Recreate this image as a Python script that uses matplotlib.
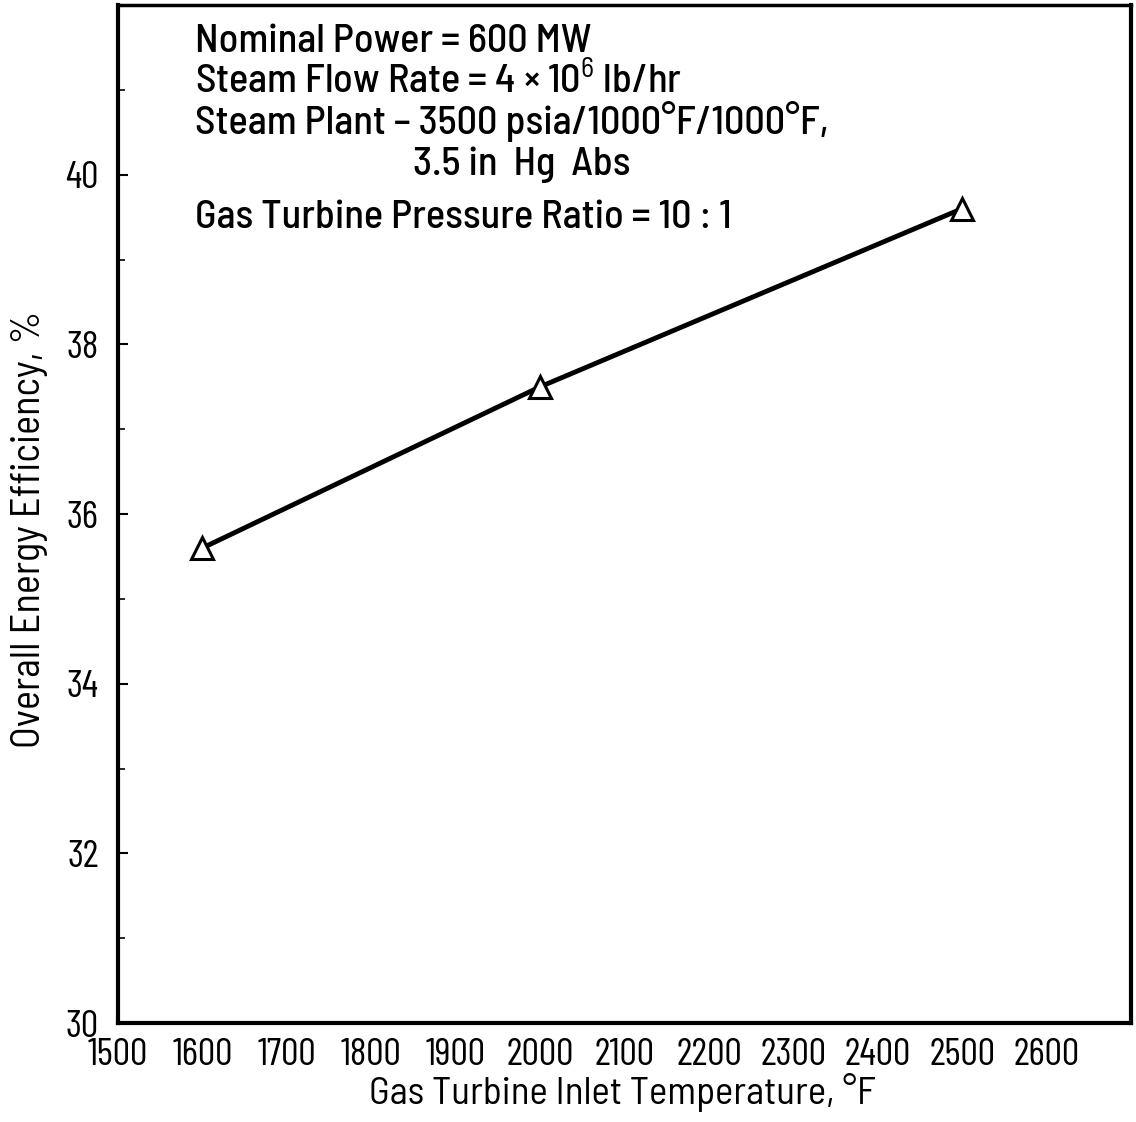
import matplotlib
matplotlib.use("Agg")
import matplotlib.pyplot as plt
from matplotlib import font_manager
from matplotlib.ticker import MultipleLocator

# ---- data ----
inlet_temp_F = [1600, 2000, 2500]
efficiency_pct = [35.6, 37.5, 39.6]
x_ticks = [1500, 1600, 1700, 1800, 1900, 2000, 2100, 2200, 2300, 2400, 2500, 2600]
y_ticks = [30, 32, 34, 36, 38, 40]
notes = [
    "Nominal Power = 600 MW",
    r"Steam Flow Rate = 4 × 10$^{6}$ lb/hr",
    "Steam Plant – 3500 psia/1000°F/1000°F,",
    "3.5 in  Hg  Abs",
    "Gas Turbine Pressure Ratio = 10 : 1",
]
x_label = "Gas Turbine Inlet Temperature, °F"
y_label = "Overall Energy Efficiency, %"

# ---- font selection ----
names = {f.name for f in font_manager.fontManager.ttflist}
if 'Barlow Condensed' in names:
    FAM = ['Barlow Condensed', 'DejaVu Sans']
    STR = 'normal'
else:
    FAM = ['DejaVu Sans']
    STR = 'condensed'
if 'Barlow Semi Condensed' in names:
    FAM2 = ['Barlow Semi Condensed', 'DejaVu Sans']
else:
    FAM2 = FAM

plt.rcParams['font.family'] = FAM
plt.rcParams['font.stretch'] = STR
plt.rcParams['mathtext.fontset'] = 'custom'
plt.rcParams['mathtext.rm'] = FAM2[0]
plt.rcParams['mathtext.it'] = FAM2[0]

fig = plt.figure(figsize=(11.36, 11.22), dpi=100)
ax = fig.add_axes([0.1039, 0.0882, 0.8917, 0.9073])

ax.plot(inlet_temp_F, efficiency_pct, color='black', lw=3.5, marker='^',
        markersize=16, markerfacecolor='white', markeredgecolor='black',
        markeredgewidth=2.2, zorder=3)

ax.set_xlim(1500, 2700)
ax.set_ylim(30, 42)
ax.set_xticks(x_ticks)
ax.set_xticklabels([str(t) for t in x_ticks])
ax.set_yticks(y_ticks)
ax.yaxis.set_minor_locator(MultipleLocator(1))
ax.tick_params(axis='x', length=0, labelsize=28, pad=11)
ax.tick_params(axis='y', which='major', direction='in', length=7, width=1.5, labelsize=28, pad=14)
ax.tick_params(axis='y', which='minor', direction='in', length=5, width=1.2)

for s in ['left', 'bottom', 'right']:
    ax.spines[s].set_linewidth(3)
ax.spines['top'].set_linewidth(2.5)

fig.text(0.548, 0.0265, x_label, ha='center', va='center', fontsize=28, family=FAM2)
fig.text(0.026, 0.528, y_label, ha='center', va='center', rotation=90, fontsize=29, family=FAM2)

note_y = [42, 80, 122, 165, 218]
note_x = [195, 195, 195, 413, 195]
for t, xp, yp in zip(notes, note_x, note_y):
    fig.text(xp / 1136, 1 - yp / 1122, t, ha='left', va='center', fontsize=29,
             fontweight='medium', family=FAM2)

fig.savefig("out.png", dpi=100)
